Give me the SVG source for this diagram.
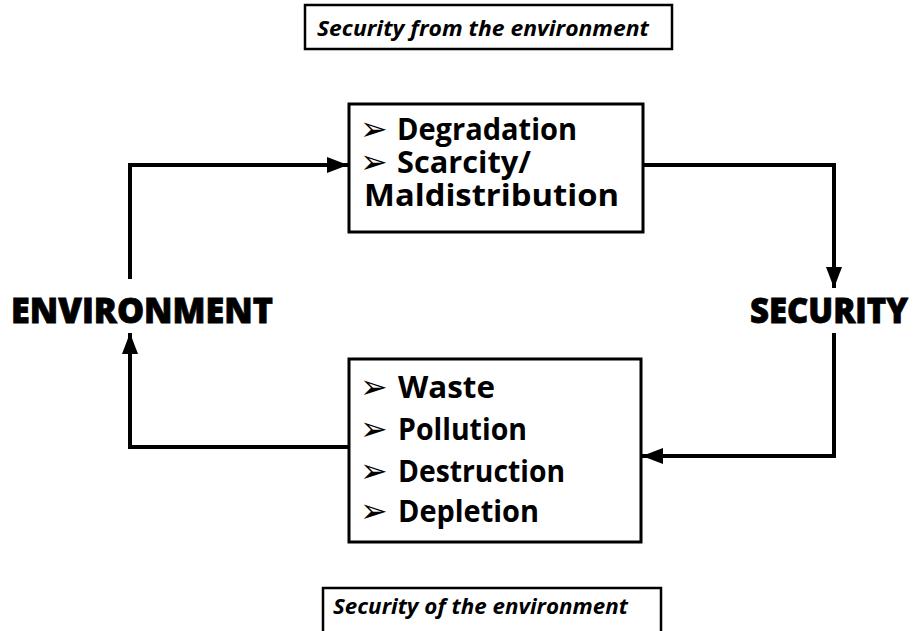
<svg xmlns="http://www.w3.org/2000/svg" width="917" height="631" viewBox="0 0 917 631">
  <style>
    .box { fill: #fff; stroke: #000; stroke-width: 3; }
    .tag { fill: #fff; stroke: #000; stroke-width: 2.5; }
    .item { font-family: "Open Sans", "Liberation Sans", sans-serif; font-weight: 700; font-size: 31px; fill: #000; }
    .bullet { font-family: "DejaVu Sans", sans-serif; font-size: 33px; fill: #000; }
    .tagtext { font-family: "Open Sans", "Liberation Sans", sans-serif; font-weight: 700; font-style: italic; font-size: 22px; fill: #000; }
    .big { font-family: "Open Sans", "Liberation Sans", sans-serif; font-weight: 800; font-size: 35px; fill: #000; stroke: #000; stroke-width: 0.8; }
    .link { fill: none; stroke: #000; stroke-width: 4; stroke-linejoin: miter; }
  </style>
  <defs>
    <marker id="arrow" markerUnits="userSpaceOnUse" markerWidth="22" markerHeight="16" refX="21" refY="8" orient="auto">
      <path d="M0,0 L21,8 L0,16 Z" fill="#000"/>
    </marker>
  </defs>

  <rect width="917" height="631" fill="#fff"/>

  <g id="label-from">
    <rect class="tag" x="305" y="5" width="367" height="44"/>
    <text class="tagtext" x="317" y="36" textLength="332" lengthAdjust="spacingAndGlyphs">Security from the environment</text>
  </g>

  <g id="label-of">
    <rect class="tag" x="323" y="588" width="338" height="50"/>
    <text class="tagtext" x="333" y="614" textLength="295" lengthAdjust="spacingAndGlyphs">Security of the environment</text>
  </g>

  <g id="environment">
    <text class="big" x="11" y="323" textLength="262" lengthAdjust="spacingAndGlyphs">ENVIRONMENT</text>
  </g>

  <g id="security">
    <text class="big" x="750" y="323" textLength="158" lengthAdjust="spacingAndGlyphs">SECURITY</text>
  </g>

  <g id="threats">
    <rect class="box" x="349" y="104" width="294" height="128"/>
    <text class="bullet" x="360" y="140">➢</text>
    <text class="item" x="397" y="140" textLength="180" lengthAdjust="spacingAndGlyphs">Degradation</text>
    <text class="bullet" x="360" y="173">➢</text>
    <text class="item" x="397" y="173" textLength="134" lengthAdjust="spacingAndGlyphs">Scarcity/</text>
    <text class="item" x="364" y="206" textLength="255" lengthAdjust="spacingAndGlyphs">Maldistribution</text>
  </g>

  <g id="impacts">
    <rect class="box" x="349" y="359" width="292" height="183"/>
    <text class="bullet" x="360" y="398">➢</text>
    <text class="item" x="398" y="398" textLength="97" lengthAdjust="spacingAndGlyphs">Waste</text>
    <text class="bullet" x="360" y="440">➢</text>
    <text class="item" x="398" y="440" textLength="129" lengthAdjust="spacingAndGlyphs">Pollution</text>
    <text class="bullet" x="360" y="482">➢</text>
    <text class="item" x="398" y="482" textLength="167" lengthAdjust="spacingAndGlyphs">Destruction</text>
    <text class="bullet" x="360" y="522">➢</text>
    <text class="item" x="398" y="522" textLength="141" lengthAdjust="spacingAndGlyphs">Depletion</text>
  </g>

  <g id="connectors">
    <path class="link" d="M130,279 V165 H348" marker-end="url(#arrow)"/>
    <path class="link" d="M643,165 H834 V288" marker-end="url(#arrow)"/>
    <path class="link" d="M834,333 V456 H642" marker-end="url(#arrow)"/>
    <path class="link" d="M350,447 H130 V333" marker-end="url(#arrow)"/>
  </g>
</svg>
